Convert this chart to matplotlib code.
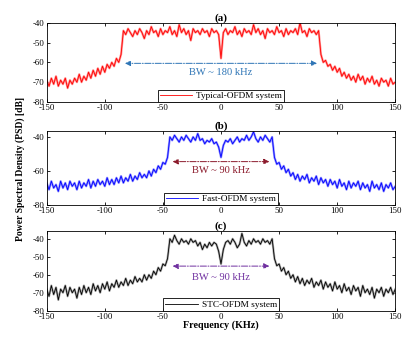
import matplotlib
matplotlib.use("Agg")
import matplotlib.pyplot as plt
import numpy as np

plt.rcParams['font.family'] = ['Liberation Serif', 'DejaVu Serif']
plt.rcParams['axes.unicode_minus'] = False

# frequency grid (kHz), one value every 2 kHz
freq = np.arange(-150, 151, 2)

# (a) Typical-OFDM PSD [dB]
psd_a = [-69, -72, -68, -71, -67, -72, -69, -71, -68, -73, -69, -71, -68, -70, -66, -70,
         -67, -69, -65, -68, -64, -67, -63, -66, -62, -65, -61, -63, -60, -62, -58, -60, -56,
         -44, -46, -43, -45, -47, -44, -46, -43, -45, -48, -44, -46, -42, -45, -44, -47,
         -43, -46, -44, -45, -42, -46, -44, -47, -41, -45, -43, -46, -44, -49, -43, -45,
         -44, -46, -43, -45, -44, -47, -43, -45, -44, -46, -58, -45, -43, -46, -44, -45,
         -42, -46, -44, -47, -43, -45, -44, -46, -41, -45, -43, -46, -44, -48, -43, -45,
         -44, -46, -42, -45, -44, -47, -43, -46, -44, -45, -43, -46, -40, -45, -44, -47,
         -43, -45, -44, -46, -44,
         -56, -60, -59, -62, -61, -64, -62, -65, -63, -67, -65, -68, -66, -69, -67, -70,
         -66, -69, -67, -71, -68, -70, -67, -71, -69, -72, -68, -70, -69, -72, -68, -71, -70]

# (b) Fast-OFDM PSD [dB]
psd_b = [-67, -71, -66, -70, -68, -72, -66, -70, -67, -71, -66, -69, -67, -71, -66, -70,
         -67, -69, -65, -70, -66, -69, -65, -68, -66, -69, -64, -68, -65, -68, -64, -67,
         -63, -67, -64, -66, -62, -66, -63, -65, -61, -64, -62, -64, -60, -63, -59, -61,
         -57, -59, -55, -56, -52,
         -40, -42, -39, -41, -43, -40, -42, -39, -41, -43, -40, -42, -38, -42, -41, -44,
         -42, -43, -41, -44, -43, -46, -52, -45, -42, -43, -41, -44, -42, -40, -43, -41,
         -42, -39, -42, -40, -37, -41, -43, -40, -42, -39, -41, -43, -40,
         -52, -56, -55, -59, -57, -61, -59, -63, -61, -65, -62, -66, -63, -65, -62, -67,
         -64, -66, -63, -68, -64, -67, -65, -69, -65, -68, -66, -70, -65, -69, -67, -71,
         -66, -70, -67, -69, -66, -71, -67, -70, -68, -72, -66, -70, -68, -71, -67, -72,
         -68, -70, -67, -71, -69]

# (c) STC-OFDM PSD [dB]
psd_c = [-68, -72, -66, -71, -67, -74, -68, -70, -66, -72, -67, -70, -68, -73, -67, -71,
         -66, -70, -67, -71, -65, -69, -66, -70, -65, -68, -64, -69, -65, -67, -63, -67,
         -64, -66, -62, -66, -63, -65, -61, -64, -62, -64, -60, -63, -60, -62, -58, -60,
         -56, -58, -54, -55, -51,
         -40, -42, -38, -41, -43, -40, -42, -41, -43, -40, -42, -41, -44, -42, -46, -43,
         -45, -42, -44, -42, -43, -47, -54, -46, -42, -41, -43, -40, -42, -45, -43, -37,
         -42, -44, -41, -43, -40, -42, -41, -43, -40, -42, -41, -43, -40,
         -51, -55, -54, -58, -56, -60, -58, -62, -60, -64, -61, -65, -62, -66, -63, -65,
         -62, -67, -64, -66, -63, -68, -64, -67, -65, -69, -64, -68, -66, -70, -65, -69,
         -67, -71, -66, -69, -67, -72, -66, -70, -68, -71, -67, -73, -68, -70, -67, -72,
         -68, -70, -67, -71, -68]

panels = [
    dict(y=psd_a, c='#ff0000', halo='#ff9090', label='Typical-OFDM system', title='(a)',
         ylim=(-80, -40), yt=[-80, -70, -60, -50, -40], bw=85, ya=-60.5, yt_txt=-65,
         txt='BW ~ 180 kHz', ac='#2e75b6', pos=[46.7, 22.7, 395.3, 102]),
    dict(y=psd_b, c='#0000ff', halo='#9090ff', label='Fast-OFDM system', title='(b)',
         ylim=(-80, -36.5), yt=[-80, -60, -40], bw=44, ya=-54.5, yt_txt=-60,
         txt='BW ~ 90 kHz', ac='#8b1a2b', pos=[46.7, 131, 395.3, 205]),
    dict(y=psd_c, c='#000000', halo='#a8a8a8', label='STC-OFDM system', title='(c)',
         ylim=(-80, -35.5), yt=[-80, -70, -60, -50, -40], bw=44, ya=-55.2, yt_txt=-61.5,
         txt='BW ~ 90 kHz', ac='#7030a0', pos=[46.7, 230.7, 395.3, 310.7]),
]

W, H = 408, 338
fig = plt.figure(figsize=(W / 100, H / 100), dpi=100)

for p in panels:
    x0, y0, x1, y1 = p['pos']
    ax = fig.add_axes([x0 / W, 1 - y1 / H, (x1 - x0) / W, (y1 - y0) / H])
    ax.plot(freq, p['y'], color=p['halo'], lw=1.6)
    ax.plot(freq, p['y'], color=p['c'], lw=0.6, label=p['label'])
    ax.set_xlim(-150, 150)
    ax.set_ylim(*p['ylim'])
    ax.set_yticks(p['yt'])
    ax.set_xticks([-150, -100, -50, 0, 50, 100, 150])
    ax.tick_params(direction='in', top=True, right=True, labelsize=6.3, length=2.5, width=0.6, pad=1.5)
    for s in ax.spines.values():
        s.set_linewidth(0.6)
    ax.set_title(p['title'], fontsize=7.8, fontweight='bold', pad=1.5)
    ax.annotate('', xy=(-p['bw'], p['ya']), xytext=(p['bw'], p['ya']),
                arrowprops=dict(arrowstyle='<|-|>', color=p['ac'], lw=0.7, ls='-.',
                                mutation_scale=8))
    ax.text(0, p['yt_txt'], p['txt'], color=p['ac'], fontsize=7.6, ha='center', va='center')
    ax.legend(loc='lower center', fontsize=6.7, frameon=True, fancybox=False, edgecolor='black',
              borderaxespad=0, handlelength=3.5, borderpad=0.2, handletextpad=0.4,
              framealpha=1).get_frame().set_linewidth(0.6)
    if p['title'] == '(c)':
        ax.set_xlabel('Frequency (KHz)', fontsize=7.3, fontweight='bold', labelpad=0)

fig.text(0.05, 0.5, 'Power Spectral Density (PSD) [dB]', rotation=90, fontsize=6.9,
         fontweight='bold', ha='center', va='center')

fig.savefig('out.png', dpi=100)
